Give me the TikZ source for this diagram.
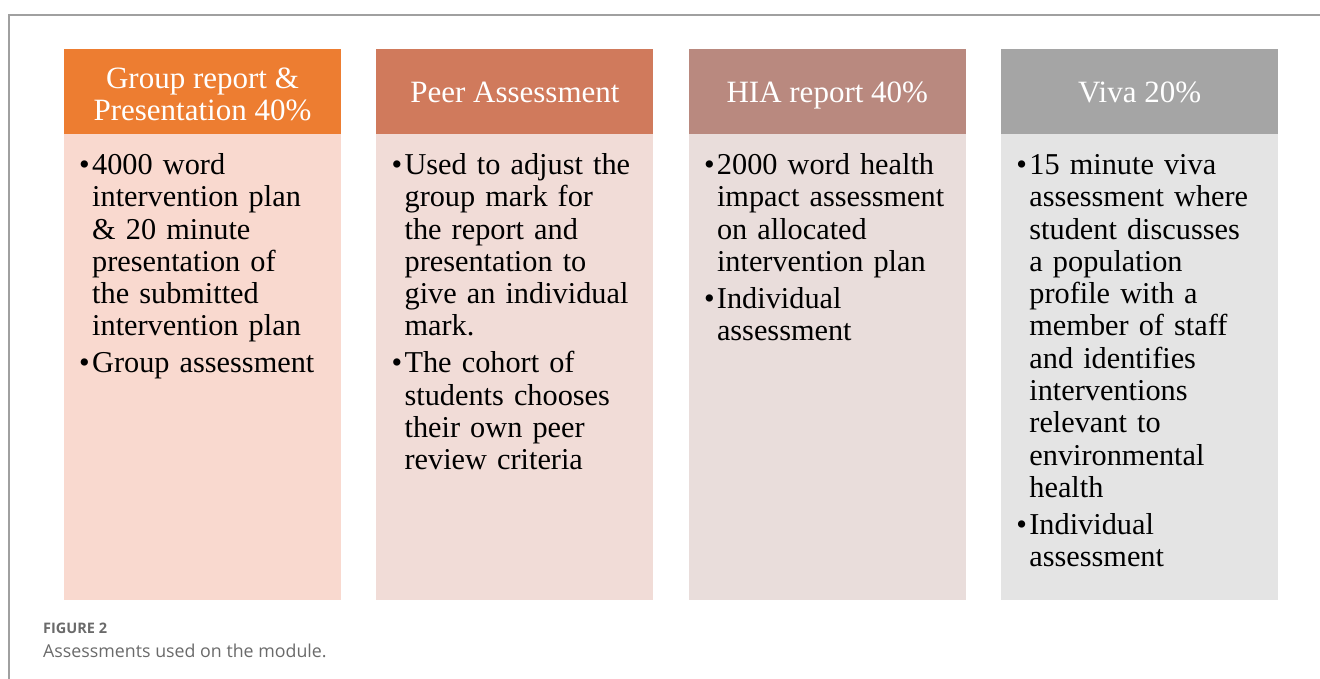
\documentclass[tikz,border=0pt]{standalone}
\usepackage{fontspec}
\setmainfont{Liberation Serif}
\newfontfamily\capfont{Open Sans}
\usepackage{xcolor}
\usetikzlibrary{positioning}

\definecolor{headOne}{HTML}{ED7D31}
\definecolor{headTwo}{HTML}{D07A5C}
\definecolor{headThree}{HTML}{B9897F}
\definecolor{headFour}{HTML}{A5A5A5}
\definecolor{bodyOne}{HTML}{F9D9CF}
\definecolor{bodyTwo}{HTML}{F1DCD7}
\definecolor{bodyThree}{HTML}{E9DDDB}
\definecolor{bodyFour}{HTML}{E4E4E4}
\definecolor{frameGray}{HTML}{A0A0A0}
\definecolor{capGray}{HTML}{6A6A6A}

\newlength{\itemgap}
\setlength{\itemgap}{4.5pt}
\newcommand{\bulitem}[1]{\par\hangindent=13pt\relax\hangafter=1\relax\noindent\makebox[13pt][l]{\textbullet}#1\par}
\newcommand{\nextitem}{\par\vspace{\itemgap}}

\begin{document}
\begin{tikzpicture}[
    x=1pt, y=-1pt,
    node distance=35.4pt,
    head/.style={rectangle, outer sep=0pt, minimum width=277pt, minimum height=85pt, inner sep=0pt, text=white, align=center, font=\fontsize{31}{32}\selectfont},
    onehead/.style={head, text height=28pt, text depth=5.6pt},
    panel/.style={rectangle, outer sep=0pt, minimum width=277pt, minimum height=466pt, inner sep=0pt},
    bullets/.style={text width=255pt, align=left, inner sep=0pt, font=\fontsize{30.3}{32.3}\selectfont},
    frame/.style={draw=frameGray, line width=1.2pt}
]

\useasboundingbox (0,0) rectangle (1320,679);
\draw[frame] (9,679) -- (9,15) -- (1320,15);

% headers
\node[head, fill=headOne, anchor=north west] (groupHead) at (64,49) {\rule{0pt}{26pt}Group report \&\\Presentation 40\%};
\node[onehead, fill=headTwo, right=of groupHead] (peerHead) {Peer Assessment};
\node[onehead, fill=headThree, right=of peerHead] (hiaHead) {HIA report 40\%};
\node[onehead, fill=headFour, right=of hiaHead] (vivaHead) {Viva 20\%};

% panels
\node[panel, fill=bodyOne, below=0pt of groupHead] (groupBody) {};
\node[panel, fill=bodyTwo, below=0pt of peerHead] (peerBody) {};
\node[panel, fill=bodyThree, below=0pt of hiaHead] (hiaBody) {};
\node[panel, fill=bodyFour, below=0pt of vivaHead] (vivaBody) {};

% bullet texts
\node[bullets, below right=8pt and 15pt of groupBody.north west] (groupText) {%
  \bulitem{4000 word\newline intervention plan\newline \& 20 minute\newline presentation of\newline the submitted\newline intervention plan}%
  \nextitem\bulitem{Group assessment}};
\node[bullets, below right=8pt and 15pt of peerBody.north west] (peerText) {%
  \bulitem{Used to adjust the\newline group mark for\newline the report and\newline presentation to\newline give an individual\newline mark.}%
  \nextitem\bulitem{The cohort of\newline students chooses\newline their own peer\newline review criteria}};
\node[bullets, below right=8pt and 15pt of hiaBody.north west] (hiaText) {%
  \bulitem{2000 word health\newline impact assessment\newline on allocated\newline intervention plan}%
  \nextitem\bulitem{Individual\newline assessment}};
\node[bullets, below right=8pt and 15pt of vivaBody.north west] (vivaText) {%
  \bulitem{15 minute viva\newline assessment where\newline student discusses\newline a population\newline profile with a\newline member of staff\newline and identifies\newline interventions\newline relevant to\newline environmental\newline health}%
  \nextitem\bulitem{Individual\newline assessment}};

% caption
\node[anchor=base west, inner sep=0pt, text=capGray, font=\capfont\bfseries\fontsize{14.5}{16}\selectfont] (figLabel) at (43,633.5) {FIGURE 2};
\node[anchor=base west, inner sep=0pt, text=capGray, font=\capfont\fontsize{17.8}{20}\selectfont] (figCaption) at (43,657.5) {Assessments used on the module.};

\end{tikzpicture}
\end{document}
